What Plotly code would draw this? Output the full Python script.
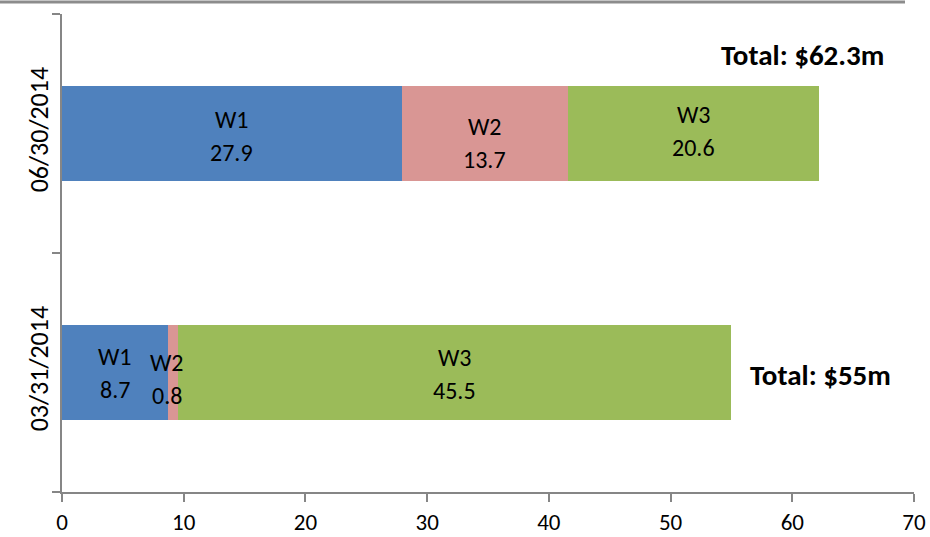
import plotly.graph_objects as go

# ---- data ----
categories = ["03/31/2014", "06/30/2014"]
series_names = ["W1", "W2", "W3"]
w1_values = [8.7, 27.9]
w2_values = [0.8, 13.7]
w3_values = [45.5, 20.6]
totals_text = ["Total: $55m", "Total: $62.3m"]
x_ticks = [0, 10, 20, 30, 40, 50, 60, 70]

# ---- style ----
colors = {"W1": "#4F81BD", "W2": "#D99694", "W3": "#9BBB59"}
FONT = "Carlito, Lato, Open Sans, sans-serif"
AXIS_GREY = "#868686"
LABEL_SIZE = 24
# small per-label pixel nudges (dx, dy) mimicking Excel's label placement
label_nudge = {
    ("W1", 0): (0, 0), ("W2", 0): (-6, -6), ("W3", 0): (0, -1),
    ("W1", 1): (0, -2), ("W2", 1): (0, -9), ("W3", 1): (0, 3),
}

series_values = {"W1": w1_values, "W2": w2_values, "W3": w3_values}

fig = go.Figure()
for name in series_names:
    fig.add_trace(go.Bar(
        y=categories, x=series_values[name], name=name, orientation="h",
        marker=dict(color=colors[name], line=dict(width=0)),
        width=0.4, hoverinfo="x+name",
    ))

annotations = []
for ci, cat in enumerate(categories):
    start = 0.0
    for name in series_names:
        v = series_values[name][ci]
        mid = start + v / 2
        dx, dy = label_nudge[(name, ci)]
        annotations.append(dict(x=mid, y=cat, xref="x", yref="y", text=name,
                                showarrow=False, xshift=dx, yshift=16 + dy,
                                font=dict(family=FONT, size=LABEL_SIZE, color="black")))
        annotations.append(dict(x=mid, y=cat, xref="x", yref="y", text=f"{v:g}",
                                showarrow=False, xshift=dx, yshift=-17 + dy,
                                font=dict(family=FONT, size=LABEL_SIZE, color="black")))
        start += v

# total labels
annotations.append(dict(x=sum(s[1] for s in series_values.values()), y=1.32, xref="x", yref="y",
                        text="<b>" + totals_text[1] + "</b>", showarrow=False,
                        xanchor="center", xshift=-17, yshift=2,
                        font=dict(family=FONT, size=29, color="black")))
annotations.append(dict(x=sum(s[0] for s in series_values.values()), y=0, xref="x", yref="y",
                        text="<b>" + totals_text[0] + "</b>", showarrow=False,
                        xanchor="left", xshift=17, yshift=-2,
                        font=dict(family=FONT, size=29, color="black")))

fig.update_layout(
    barmode="stack",
    width=930, height=537,
    margin=dict(l=62, r=16, t=14, b=45),
    plot_bgcolor="white", paper_bgcolor="white",
    showlegend=False,
    annotations=annotations,
    shapes=[dict(type="line", xref="paper", yref="paper",
                 x0=-62 / 852, x1=843 / 852, y0=1 + 12 / 478, y1=1 + 12 / 478,
                 line=dict(color="#8c8c8c", width=3))],
    xaxis=dict(range=[0, 70], tickvals=x_ticks, showgrid=False, zeroline=False,
               automargin=False,
               showline=True, linecolor=AXIS_GREY, linewidth=1.5,
               ticks="outside", ticklen=8, tickcolor=AXIS_GREY, tickwidth=1.5,
               ticklabelstandoff=1,
               tickfont=dict(family=FONT, size=23, color="black")),
    yaxis=dict(type="category", categoryorder="array", categoryarray=categories,
               range=[-0.5, 1.5], showgrid=False, zeroline=False,
               automargin=False,
               showline=True, linecolor=AXIS_GREY, linewidth=1.5,
               ticks="outside", tickson="boundaries", ticklen=8,
               tickcolor=AXIS_GREY, tickwidth=1.5, tickangle=-90,
               ticklabelstandoff=2,
               tickfont=dict(family=FONT, size=26, color="black")),
)

fig.write_html("out.html", config={"displayModeBar": False},
               post_script="document.body.style.margin='0';document.body.style.padding='0';")
